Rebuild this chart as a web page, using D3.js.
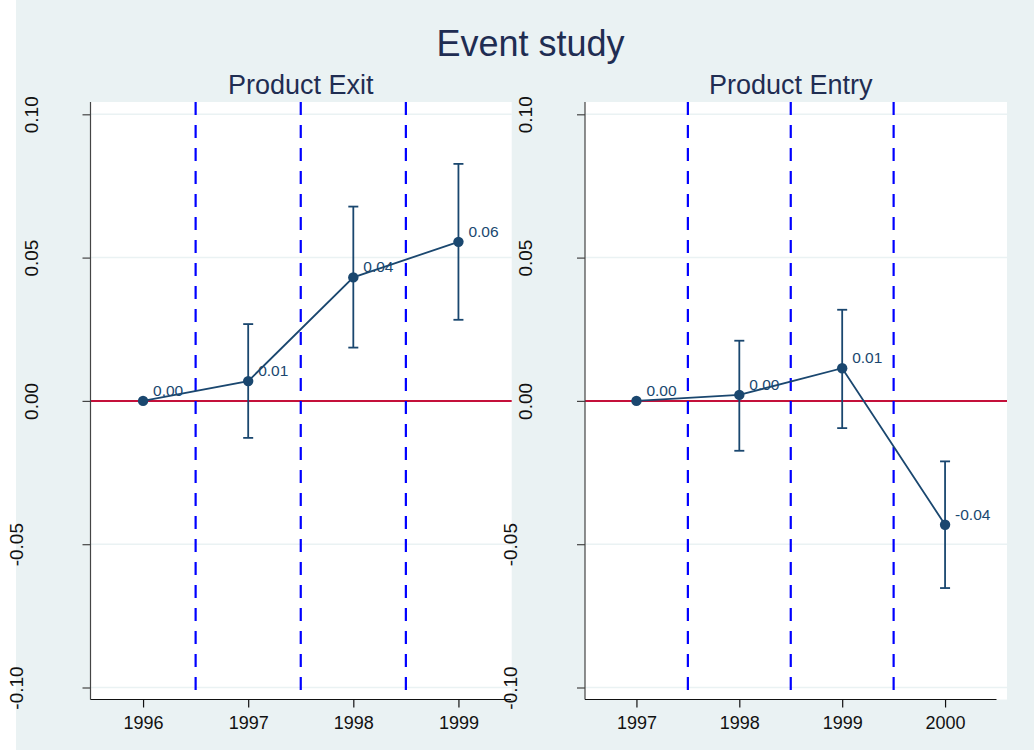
<!DOCTYPE html>
<html>
<head>
<meta charset="utf-8">
<script src="https://cdn.jsdelivr.net/npm/d3@7"></script>
<style>
  html, body { margin: 0; padding: 0; background: #ffffff; }
  svg { display: block; }
  svg text { font-family: "Liberation Sans", Arial, sans-serif; }
</style>
</head>
<body>
<svg id="chart" width="1034" height="751"></svg>
<script>
// Event-study coefficients with 95% confidence bands
const exitYears = [1996, 1997, 1998, 1999];
const exitCoef  = [0.0000, 0.0069, 0.0431, 0.0555];
const exitLow   = [null, -0.0129, 0.0186, 0.0283];
const exitHigh  = [null,  0.0268, 0.0678, 0.0827];
const exitBreaks = [1996.5, 1997.5, 1998.5];

const entryYears = [1997, 1998, 1999, 2000];
const entryCoef  = [0.0000, 0.0021, 0.0114, -0.0432];
const entryLow   = [null, -0.0174, -0.0095, -0.0653];
const entryHigh  = [null,  0.0210,  0.0318, -0.0211];
const entryBreaks = [1997.5, 1998.5, 1999.5];

const yTicks = [-0.10, -0.05, 0.00, 0.05, 0.10];
const chartTitle = "Event study";
const panelTitles = ["Product Exit", "Product Entry"];

const BG = "#eaf2f3", NAVY = "#1a476f", TITLE = "#1f2d52";
const FONT = "'Liberation Sans', Arial, sans-serif";

const locale = d3.formatLocale({ decimal: ".", thousands: ",", grouping: [3], currency: ["", ""], minus: "-" });
const fmt = locale.format(".2f");

const svg = d3.select("#chart");

// outer graph region
svg.append("rect").attr("x", 16).attr("y", 0).attr("width", 1018).attr("height", 750).attr("fill", BG);

svg.append("text").attr("x", 530.5).attr("y", 56).attr("text-anchor", "middle")
  .attr("font-size", 36).attr("fill", TITLE).text(chartTitle);

const y = d3.scaleLinear().domain([-0.1, 0.1]).range([687.5, 114.3]);

function panel(cfg) {
  const { years, coef, low, high, breaks, title, axisX, axisEnd, plotRight, x0, x1 } = cfg;
  const x = d3.scaleLinear().domain([x0, x1]).range([axisX, axisEnd]);
  const g = svg.append("g");
  const top = 102, bottom = 699.5;

  g.append("rect").attr("x", axisX).attr("y", top)
    .attr("width", plotRight - axisX).attr("height", bottom - top).attr("fill", "#ffffff");

  g.append("text").attr("x", (axisX + axisEnd) / 2).attr("y", 94).attr("text-anchor", "middle")
    .attr("font-size", 27).attr("fill", TITLE).text(title);

  // horizontal grid
  g.selectAll("line.grid").data(yTicks.filter(d => d !== 0)).join("line")
    .attr("x1", axisX).attr("x2", plotRight)
    .attr("y1", d => y(d)).attr("y2", d => y(d))
    .attr("stroke", BG).attr("stroke-width", 1.5);

  // reference line at zero
  g.append("line").attr("x1", axisX).attr("x2", plotRight)
    .attr("y1", y(0)).attr("y2", y(0)).attr("stroke", "#c4103a").attr("stroke-width", 2);

  // period separators
  g.selectAll("line.brk").data(breaks).join("line")
    .attr("x1", d => x(d)).attr("x2", d => x(d))
    .attr("y1", top).attr("y2", bottom)
    .attr("stroke", "#0000ff").attr("stroke-width", 2.2).attr("stroke-dasharray", "13,10");

  // y axis
  const ya = g.append("g").attr("transform", `translate(${axisX},0)`)
    .call(d3.axisLeft(y).tickValues(yTicks).tickSize(8).tickFormat(fmt))
    .attr("font-family", FONT);
  ya.select(".domain").attr("stroke", "#444").attr("stroke-width", 1.2)
    .attr("d", `M0,${top}V${bottom}`);
  ya.selectAll(".tick line").attr("stroke", "#444").attr("stroke-width", 1.2);
  ya.selectAll(".tick text")
    .attr("x", 0).attr("y", 0).attr("dy", 0)
    .attr("text-anchor", "middle").attr("font-size", 19).attr("fill", "#111")
    .attr("transform", d => {
      const label = fmt(d);
      const bx = -53 - (label.length - 4) * 15;
      return `translate(${bx},0) rotate(-90)`;
    });

  // x axis
  const xa = g.append("g").attr("transform", `translate(0,${bottom})`)
    .call(d3.axisBottom(x).tickValues(years).tickSize(8).tickFormat(d3.format("d")))
    .attr("font-family", FONT);
  xa.select(".domain").attr("stroke", "#111").attr("stroke-width", 1.2)
    .attr("d", `M${axisX},0H${axisEnd}`);
  xa.selectAll(".tick line").attr("stroke", "#111").attr("stroke-width", 1.2);
  xa.selectAll(".tick text").attr("font-size", 18).attr("fill", "#111").attr("y", 17).attr("dy", "0.71em");

  const pts = years.map((yr, i) => ({ yr, c: coef[i], lo: low[i], hi: high[i] }));

  // confidence intervals
  const ci = pts.filter(p => p.lo !== null);
  g.selectAll("line.ci").data(ci).join("line")
    .attr("x1", p => x(p.yr)).attr("x2", p => x(p.yr))
    .attr("y1", p => y(p.lo)).attr("y2", p => y(p.hi))
    .attr("stroke", NAVY).attr("stroke-width", 1.8);
  ["lo", "hi"].forEach(k => {
    g.selectAll("line.cap" + k).data(ci).join("line")
      .attr("x1", p => x(p.yr) - 5).attr("x2", p => x(p.yr) + 5)
      .attr("y1", p => y(p[k])).attr("y2", p => y(p[k]))
      .attr("stroke", NAVY).attr("stroke-width", 1.8);
  });

  // connecting line
  g.append("path").datum(pts)
    .attr("d", d3.line().x(p => x(p.yr)).y(p => y(p.c)))
    .attr("fill", "none").attr("stroke", NAVY).attr("stroke-width", 1.8);

  g.selectAll("circle.pt").data(pts).join("circle")
    .attr("cx", p => x(p.yr)).attr("cy", p => y(p.c)).attr("r", 5.2).attr("fill", NAVY);

  g.selectAll("text.lab").data(pts).join("text")
    .attr("x", p => x(p.yr) + 10).attr("y", p => y(p.c) - 5)
    .attr("font-size", 15.5).attr("fill", NAVY).text(p => fmt(p.c));
}

panel({ years: exitYears, coef: exitCoef, low: exitLow, high: exitHigh, breaks: exitBreaks,
  title: panelTitles[0], axisX: 90.5, axisEnd: 511, plotRight: 511.7, x0: 1995.5, x1: 1999.5 });

panel({ years: entryYears, coef: entryCoef, low: entryLow, high: entryHigh, breaks: entryBreaks,
  title: panelTitles[1], axisX: 585, axisEnd: 996.5, plotRight: 1007, x0: 1996.5, x1: 2000.5 });
</script>
</body>
</html>
